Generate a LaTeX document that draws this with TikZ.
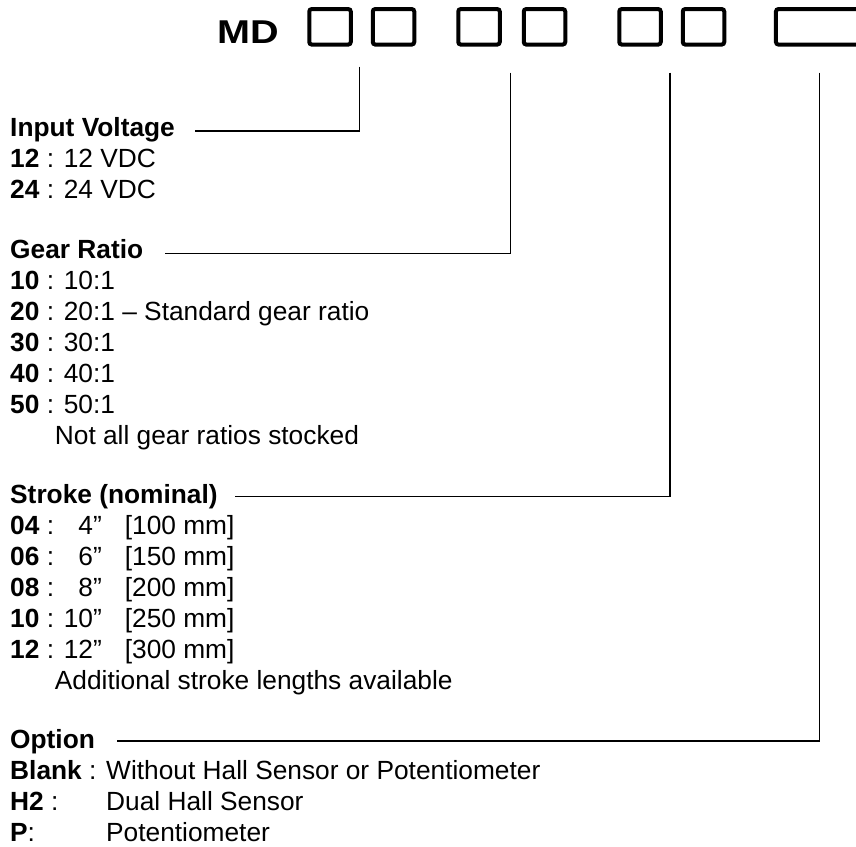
\documentclass[tikz,border=0pt]{standalone}
\usepackage{fontspec}
\setmainfont{Liberation Sans}
\usetikzlibrary{positioning, calc}

\newcommand{\strk}[3]{\textbf{#1} : \makebox[2.32em][l]{\makebox[1.445em][r]{#2}}[#3 mm]}

\begin{document}
\begin{tikzpicture}[
  x=1pt, y=-1pt,
  digit/.style={
    draw, line width=4pt, rounded corners=2.5pt,
    minimum width=41.5pt, minimum height=35.5pt,
    inner sep=0pt, outer sep=0pt
  },
  entry/.style={
    font=\fontsize{26.3}{30.6}\selectfont, inner sep=0pt,
    text height=19pt, text depth=5.6pt, anchor=base west
  },
  under/.style={below=6pt of #1.south west, anchor=north west},
  lead/.style={line width=1.3pt}
]
  \useasboundingbox (0,0) rectangle (856,846);
  \clip (0,0) rectangle (856,846);

  % part number
  \node[anchor=base west, inner sep=0pt, font=\bfseries\fontsize{33}{33}\selectfont]
    (md) at (217,43.3) {\scalebox{1.2}[1]{MD}};
  \node[digit] (b1) at (330,26.8) {};
  \node[digit, right=22pt of b1] (b2) {};
  \node[digit, right=44pt of b2] (b3) {};
  \node[digit, right=24pt of b3] (b4) {};
  \node[digit, right=54pt of b4] (b5) {};
  \node[digit, right=22pt of b5] (b6) {};
  \node[digit, minimum width=90pt, right=51.7pt of b6] (b7) {};

  \coordinate (t1) at (359.3,66.7);
  \coordinate (t2) at (510.5,72.7);
  \coordinate (t3) at (670,72.7);
  \coordinate (t4) at (819.5,72.7);

  % input voltage
  \node[entry] (hv) at (10,136) {\textbf{Input Voltage}};
  \node[entry, under=hv] (v12) {\textbf{12} : 12 VDC};
  \node[entry, under=v12] (v24) {\textbf{24} : 24 VDC};

  % gear ratio
  \node[entry] (hg) at (10,258.4) {\textbf{Gear Ratio}};
  \node[entry, under=hg] (g10) {\textbf{10} : 10:1};
  \node[entry, under=g10] (g20) {\textbf{20} : 20:1 -- Standard gear ratio};
  \node[entry, under=g20] (g30) {\textbf{30} : 30:1};
  \node[entry, under=g30] (g40) {\textbf{40} : 40:1};
  \node[entry, under=g40] (g50) {\textbf{50} : 50:1};
  \node[entry, under=g50] (gnote) {\hspace*{44.7pt}Not all gear ratios stocked};

  % stroke
  \node[entry] (hs) at (10,503.2) {\textbf{Stroke (nominal)}};
  \node[entry, under=hs] (s04) {\strk{04}{4”}{100}};
  \node[entry, under=s04] (s06) {\strk{06}{6”}{150}};
  \node[entry, under=s06] (s08) {\strk{08}{8”}{200}};
  \node[entry, under=s08] (s10) {\strk{10}{10”}{250}};
  \node[entry, under=s10] (s12) {\strk{12}{12”}{300}};
  \node[entry, under=s12] (snote) {\hspace*{44.7pt}Additional stroke lengths available};

  % option
  \node[entry] (ho) at (10,748) {\textbf{Option}};
  \node[entry, under=ho] (oblank) {\textbf{Blank} : Without Hall Sensor or Potentiometer};
  \node[entry, under=oblank] (oh2) {\makebox[96pt][l]{\textbf{H2} :}Dual Hall Sensor};
  \node[entry, under=oh2] (op) {\makebox[96pt][l]{\textbf{P}:}Potentiometer};

  % leaders
  \draw[lead] (t1) |- ([xshift=20pt, yshift=5pt]hv.base east);
  \draw[lead] (t2) |- ([xshift=22pt, yshift=5pt]hg.base east);
  \draw[lead] (t3) |- ([xshift=17.5pt, yshift=7pt]hs.base east);
  \draw[lead] (t4) |- ([xshift=22pt, yshift=7pt]ho.base east);
\end{tikzpicture}
\end{document}
